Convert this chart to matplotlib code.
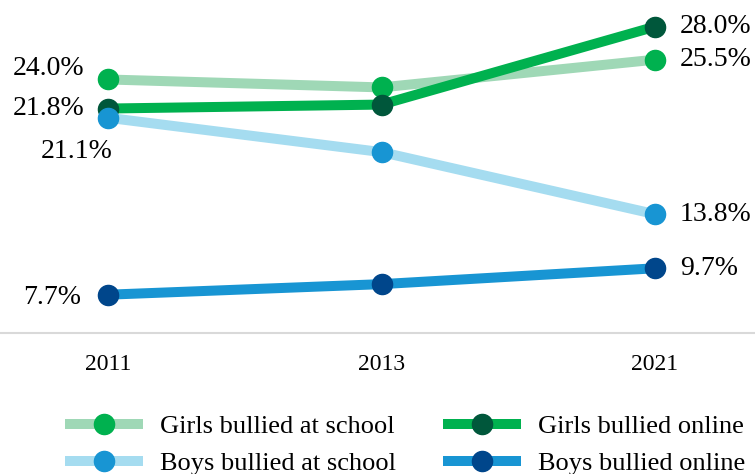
import numpy as np
import matplotlib
matplotlib.use("Agg")
from matplotlib import pyplot as plt

plt.rcParams['font.family'] = ['Liberation Serif', 'DejaVu Serif']

years = ['2011', '2013', '2021']
girls_school = [24.0, 23.4, 25.5]
girls_online = [21.8, 22.1, 28.0]
boys_school = [21.1, 18.5, 13.8]
boys_online = [7.7, 8.5, 9.7]

names = ['Girls bullied at school', 'Girls bullied online',
         'Boys bullied at school', 'Boys bullied online']
line_cols = ['#9fd8b6', '#00b14f', '#a5dcf0', '#1895d3']
dot_cols = ['#00b14f', '#00573b', '#1895d3', '#00468b']

fig = plt.figure(figsize=(7.55, 4.74), dpi=100)
ax = fig.add_axes([0, 0.2975, 1, 0.7025])
x = np.arange(len(years))

handles = []
for vals, name, lc, dc in zip([girls_school, girls_online, boys_school, boys_online],
                              names, line_cols, dot_cols):
    h, = ax.plot(x, vals, color=lc, lw=7.2, marker='o', ms=14.5,
                 mfc=dc, mec=dc, label=name, solid_capstyle='butt')
    handles.append(h)

ax.set_xlim(-108 / 273.5, 647 / 273.5)
ax.set_ylim(4.8, 30.02)

# end labels
fs = 20
lab = lambda v: f'{v:.1f}%'
ax.annotate(lab(girls_school[0]), (0, girls_school[0]), xytext=(-17, 8),
            textcoords='offset points', ha='right', va='center', fontsize=fs)
ax.annotate(lab(girls_online[0]), (0, girls_online[0]), xytext=(-17, 0),
            textcoords='offset points', ha='right', va='center', fontsize=fs)
ax.annotate(lab(boys_school[0]), (0, boys_school[0]), xytext=(3, -24),
            textcoords='offset points', ha='right', va='center', fontsize=fs)
ax.annotate(lab(boys_online[0]), (0, boys_online[0]), xytext=(-19, -2),
            textcoords='offset points', ha='right', va='center', fontsize=fs)
for vals in [girls_school, girls_online, boys_school, boys_online]:
    ax.annotate(lab(vals[2]), (2, vals[2]), xytext=(18, 0),
                textcoords='offset points', ha='left', va='center', fontsize=fs)

for s in ['top', 'left', 'right']:
    ax.spines[s].set_visible(False)
ax.spines['bottom'].set_color('#d9d9d9')
ax.spines['bottom'].set_linewidth(1.5)
ax.set_yticks([])
ax.set_xticks(x)
ax.set_xticklabels(years, fontsize=17)
ax.tick_params(axis='x', length=0, pad=15)
ax.patch.set_alpha(0)

# legend fills column by column, so order girls/boys pairs per column
order = [0, 2, 1, 3]
fig.legend(handles=[handles[i] for i in order], ncol=2, loc='upper left',
           bbox_to_anchor=(0.072, 0.148), frameon=False, fontsize=19,
           handlelength=2.95, handletextpad=0.65, columnspacing=1.78,
           labelspacing=0.52, borderaxespad=0)

fig.savefig('out.png', dpi=100)
